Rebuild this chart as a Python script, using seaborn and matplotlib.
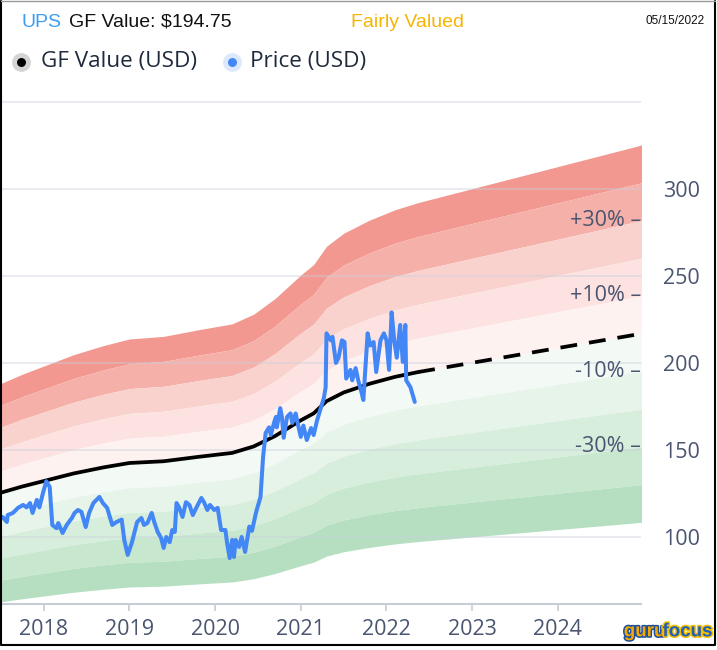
import numpy as np
import matplotlib
matplotlib.use("Agg")
import matplotlib.pyplot as plt
import matplotlib.patheffects as pe
from matplotlib.lines import Line2D
import seaborn as sns

# GF Value (historical, solid) and projection (dashed)
gf_years = [2017.49, 2017.75, 2018.03, 2018.35, 2018.70, 2019.00, 2019.40, 2019.80,
            2020.20, 2020.45, 2020.70, 2021.00, 2021.15, 2021.30, 2021.50, 2021.80,
            2022.10, 2022.37]
gf_values = [125.3, 129.0, 132.5, 136.5, 140.0, 142.5, 143.5, 146.0,
             148.3, 152.0, 158.0, 167.0, 171.0, 178.0, 183.0, 188.0,
             192.0, 194.75]
proj_years = [2022.37, 2023.70, 2025.00]
proj_values = [194.75, 206.0, 217.0]

# UPS price
price_years = [2017.49, 2017.52, 2017.57, 2017.58, 2017.64, 2017.70, 2017.76, 2017.80, 2017.84,
               2017.87, 2017.92, 2017.95, 2017.99, 2018.03, 2018.07, 2018.10, 2018.15, 2018.17,
               2018.22, 2018.27, 2018.33, 2018.36, 2018.40, 2018.44, 2018.49, 2018.53, 2018.58,
               2018.65, 2018.69, 2018.74, 2018.80, 2018.85, 2018.91, 2018.94, 2018.98, 2019.03,
               2019.09, 2019.14, 2019.17, 2019.21, 2019.26, 2019.29, 2019.33, 2019.37, 2019.40,
               2019.43, 2019.47, 2019.50, 2019.53, 2019.55, 2019.58, 2019.62, 2019.66, 2019.70,
               2019.74, 2019.78, 2019.84, 2019.87, 2019.91, 2019.94, 2019.99, 2020.03, 2020.07,
               2020.12, 2020.14, 2020.17, 2020.20, 2020.22, 2020.24, 2020.28, 2020.31, 2020.35,
               2020.40, 2020.43, 2020.48, 2020.53, 2020.56, 2020.59, 2020.63, 2020.65, 2020.69,
               2020.71, 2020.72, 2020.76, 2020.78, 2020.80, 2020.84, 2020.88, 2020.90, 2020.94,
               2020.97, 2021.00, 2021.03, 2021.07, 2021.12, 2021.15, 2021.19, 2021.23, 2021.27,
               2021.29, 2021.30, 2021.35, 2021.37, 2021.41, 2021.44, 2021.48, 2021.51, 2021.53,
               2021.58, 2021.60, 2021.64, 2021.67, 2021.71, 2021.73, 2021.76, 2021.78, 2021.81,
               2021.85, 2021.88, 2021.93, 2021.97, 2022.00, 2022.03, 2022.06, 2022.09, 2022.12,
               2022.16, 2022.19, 2022.22, 2022.23, 2022.28, 2022.33]
price_values = [110.9, 111.5, 108.6, 112.6, 113.8, 116.7, 118.4, 117.0, 119.5,
                113.8, 121.3, 117.0, 125.0, 132.0, 128.7, 106.9, 105.0, 108.0,
                102.3, 107.0, 111.0, 113.8, 115.5, 114.4, 105.7, 113.8, 119.5,
                123.0, 119.5, 116.7, 106.9, 108.6, 110.0, 98.3, 89.7, 97.0,
                108.6, 110.9, 106.9, 108.0, 113.8, 108.6, 102.9, 99.4, 93.7,
                100.0, 97.0, 104.0, 102.9, 119.5, 117.0, 111.5, 120.0, 118.4,
                112.6, 116.7, 122.4, 120.0, 115.5, 118.4, 115.5, 116.7, 104.0,
                104.0, 96.6, 87.9, 98.3, 88.5, 98.3, 94.3, 100.0, 91.4,
                106.0, 103.5, 114.5, 123.0, 146.0, 159.8, 163.0, 158.6, 166.0,
                169.0, 163.0, 174.0, 169.0, 157.0, 169.0, 171.0, 165.5, 171.0,
                164.0, 157.5, 164.0, 155.7, 162.6, 158.6, 167.0, 173.5, 180.0,
                186.0, 217.0, 213.0, 215.0, 200.0, 203.0, 213.0, 212.0, 191.0,
                196.0, 190.0, 197.0, 190.0, 182.8, 178.7, 201.7, 217.0, 210.0,
                212.0, 194.8, 213.0, 217.0, 213.0, 196.0, 229.0, 213.0, 203.0,
                221.8, 200.6, 221.8, 190.0, 186.0, 177.6]

band_factors = [1.5, 1.4, 1.3, 1.2, 1.1, 1.0, 0.9, 0.8, 0.7, 0.6, 0.5]
band_colors = ["#f29890", "#f5b0a9", "#f9d2ce", "#fce3e1", "#fef2f1",
               "#f3faf5", "#e7f4ea", "#d8eedd", "#c8e7cf", "#b6dfc2"]
pct_labels = ["+30%", "+10%", "-10%", "-30%"]
pct_factors = [1.3, 1.1, 0.9, 0.7]
year_ticks = [2018, 2019, 2020, 2021, 2022, 2023, 2024]
price_ticks = [100, 150, 200, 250, 300]
grid_levels = [100, 150, 200, 250, 300, 350]

sns.set_theme(style="white")
plt.rcParams["font.family"] = ["Open Sans", "DejaVu Sans"]

fig = plt.figure(figsize=(7.17, 6.5), dpi=100)
ax = fig.add_axes([0.0, 0.0708, 0.894, 0.7752])

# valuation bands
all_years = np.array(gf_years + proj_years[1:])
all_gf = np.array(gf_values + proj_values[1:])
for i, col in enumerate(band_colors):
    ax.fill_between(all_years, all_gf * band_factors[i + 1], all_gf * band_factors[i],
                    color=col, lw=0, zorder=0)

for v in grid_levels:
    ax.axhline(v, color="#c9cfdb", lw=1.3, alpha=0.45, zorder=1)

sns.lineplot(x=gf_years, y=gf_values, ax=ax, color="black", lw=2.7, zorder=3)
sns.lineplot(x=proj_years, y=proj_values, ax=ax, color="black", lw=2.7,
             zorder=3).lines[-1].set_dashes([4.5, 3.2])
sns.lineplot(x=price_years, y=price_values, ax=ax, color="#4287f5", lw=2.9, zorder=4)

ax.set_xlim(2017.49, 2024.97)
ax.set_ylim(61.5, 351.0)
ax.set_xticks(year_ticks)
ax.set_xticklabels([str(y) for y in year_ticks])
ax.set_yticks(price_ticks)
ax.set_yticklabels([str(v) for v in price_ticks])
ax.set_xlabel("")
ax.set_ylabel("")
for s in ["top", "left", "right"]:
    ax.spines[s].set_visible(False)
ax.spines["bottom"].set_color("#c8ccd6")
ax.spines["bottom"].set_linewidth(1.5)
ax.tick_params(axis="x", bottom=True, length=5, width=1.2, color="#c8ccd6",
               labelsize=15.5, labelcolor="#4a5570", pad=6)
ax.tick_params(axis="y", left=False, right=False, labelleft=False, labelright=True,
               labelsize=15.5, labelcolor="#4a5570", length=0, pad=16)

end_gf = proj_values[-1]
for lab, f in zip(pct_labels, pct_factors):
    ax.text(2024.97, end_gf * f, lab + " \u2013", ha="right", va="center",
            fontsize=15.5, color="#4a5570", zorder=5)

# header
fig.text(0.030, 0.966, "UPS", color="#3d9df3", fontsize=14, va="center",
         family="Liberation Sans")
fig.text(0.096, 0.966, "GF Value: $194.75", color="#111111", fontsize=14, va="center",
         family="Liberation Sans")
fig.text(0.569, 0.966, "Fairly Valued", color="#f7b500", fontsize=14, va="center",
         ha="center", family="Liberation Sans")
fig.text(0.983, 0.968, "05/15/2022", color="#111111", fontsize=8.5, va="center",
         ha="right", family="Liberation Sans")

# legend
fig.add_artist(Line2D([0.029], [0.905], transform=fig.transFigure, marker="o",
                      markersize=10, color="black", markeredgecolor="#d4d4d4",
                      markeredgewidth=3.5, linestyle=""))
fig.text(0.057, 0.905, "GF Value (USD)", color="#1f2a3c", fontsize=16.2, va="center")
fig.add_artist(Line2D([0.324], [0.905], transform=fig.transFigure, marker="o",
                      markersize=10, color="#4287f5", markeredgecolor="#dce8fb",
                      markeredgewidth=3.5, linestyle=""))
fig.text(0.349, 0.905, "Price (USD)", color="#1f2a3c", fontsize=16.2, va="center")

# logo
fig.text(0.870, 0.028, "guru", color="#f5a800", fontsize=13.5, fontweight="bold",
         va="center", family="Liberation Sans",
         path_effects=[pe.withStroke(linewidth=2.2, foreground="#1d4f9c")])
fig.text(0.924, 0.028, "focus", color="#1d5fbf", fontsize=13.5, fontweight="bold",
         va="center", family="Liberation Sans",
         path_effects=[pe.withStroke(linewidth=2.2, foreground="#f5c000")])

# frame
fig.add_artist(Line2D([0.001, 0.001, 0.997, 0.997], [0.999, 0.007, 0.007, 0.999],
                      transform=fig.transFigure, color="black", lw=1.5))
fig.add_artist(Line2D([0.001, 0.997], [0.999, 0.999], transform=fig.transFigure,
                      color="#9a9a9a", lw=1.0))

fig.savefig("out.png", dpi=100)
